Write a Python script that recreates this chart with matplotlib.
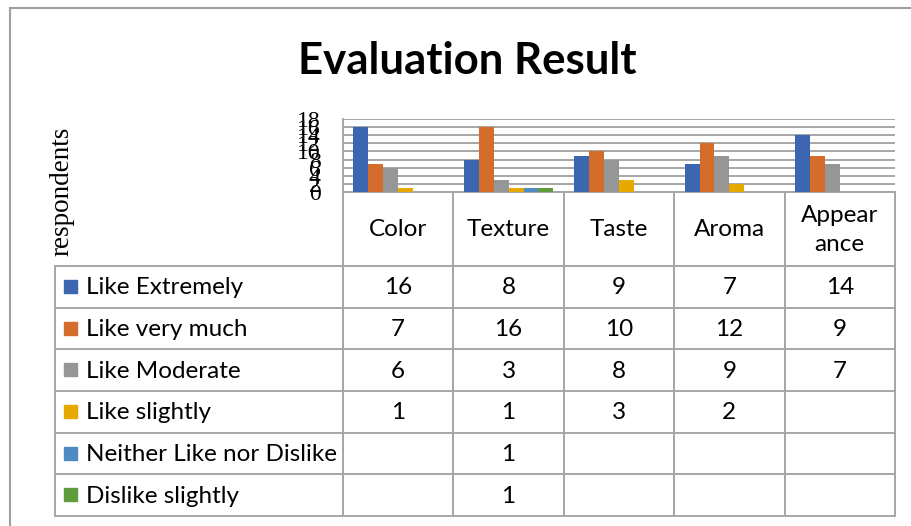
import numpy as np
import matplotlib
matplotlib.use("Agg")
import matplotlib.pyplot as plt

# data
categories = ["Color", "Texture", "Taste", "Aroma", "Appear\nance"]
series_names = ["Like Extremely", "Like very much", "Like Moderate",
                "Like slightly", "Neither Like nor Dislike", "Dislike slightly"]
like_extremely = [16, 8, 9, 7, 14]
like_very_much = [7, 16, 10, 12, 9]
like_moderate = [6, 3, 8, 9, 7]
like_slightly = [1, 1, 3, 2, None]
neither = [None, 1, None, None, None]
dislike_slightly = [None, 1, None, None, None]
series = [like_extremely, like_very_much, like_moderate,
          like_slightly, neither, dislike_slightly]
colors = ["#3D66B0", "#D46C2C", "#969696", "#E5A900", "#4F8BC2", "#5F9B3D"]
y_ticks = list(range(0, 19, 2))

W, H = 912, 526
fig = plt.figure(figsize=(W / 100, H / 100), dpi=100)
ui = ["Lato", "DejaVu Sans"]
serif = ["Liberation Serif", "DejaVu Serif"]
grid_c = "#A6A6A6"
fs = 17.5

# layout (pixels)
left, right = 343, 895
top_plot, bot_plot = 119, 192
head_bot = 266
tab_bot = 516
tab_left = 55
n_cat = len(categories)
n_ser = len(series)
col_w = (right - left) / n_cat
row_h = (tab_bot - head_bot) / n_ser

# background axes for table & frame
bg = fig.add_axes([0, 0, 1, 1], zorder=0)
bg.set_xlim(0, W)
bg.set_ylim(H, 0)
bg.axis("off")

# outer chart border
bg.plot([10, 10], [8, H], color="#A0A0A0", lw=1.5)
bg.plot([10, W], [8, 8], color="#A0A0A0", lw=1.5)

# title
bg.text(467, 61, "Evaluation Result", ha="center", va="center",
        fontsize=31.5, fontweight="bold", family=ui)
# y label
bg.text(62, 191, "respondents", rotation=90, ha="center", va="center",
        fontsize=19.5, family=serif)

# table lines
lw = 1.4
for k in range(n_cat + 1):
    x = left + k * col_w
    bg.plot([x, x], [bot_plot, tab_bot], color=grid_c, lw=lw)
bg.plot([tab_left, tab_left], [head_bot, tab_bot], color=grid_c, lw=lw)
for r in range(n_ser + 1):
    y = head_bot + r * row_h
    bg.plot([tab_left, right], [y, y], color=grid_c, lw=lw)

# header categories
for k, c in enumerate(categories):
    bg.text(left + (k + 0.5) * col_w, (bot_plot + head_bot) / 2 + 1, c,
            ha="center", va="center", fontsize=fs, family=ui, linespacing=1.45)

# rows: legend key + values
for r, (name, vals, col) in enumerate(zip(series_names, series, colors)):
    yc = head_bot + (r + 0.5) * row_h
    bg.add_patch(plt.Rectangle((64, yc - 7), 13, 13, color=col))
    bg.text(86, yc + 1, name, ha="left", va="center", fontsize=fs, family=ui)
    for k, v in enumerate(vals):
        if v is not None:
            bg.text(left + (k + 0.5) * col_w, yc + 1, str(v), ha="center",
                    va="center", fontsize=fs, family=ui)

# bar chart
ax = fig.add_axes([left / W, 1 - bot_plot / H, (right - left) / W,
                   (bot_plot - top_plot) / H], zorder=1)
ax.set_facecolor("none")
bw = 0.135
x = np.arange(n_cat)
for j, (vals, col) in enumerate(zip(series, colors)):
    v = [0 if a is None else a for a in vals]
    ax.bar(x + (j - (n_ser - 1) / 2) * bw, v, width=bw, color=col, zorder=3)
ax.set_xlim(-0.5, n_cat - 0.5)
ax.set_ylim(0, 18)
ax.set_yticks(y_ticks)
ax.set_yticklabels([str(t) for t in y_ticks], family=serif, fontsize=17)
ax.tick_params(axis="y", length=0, pad=16)
ax.set_xticks([])
ax.yaxis.grid(True, color=grid_c, lw=1.4, zorder=0)
for s in ["top", "right"]:
    ax.spines[s].set_visible(False)
for s in ["left", "bottom"]:
    ax.spines[s].set_color(grid_c)
    ax.spines[s].set_linewidth(1.4)

fig.savefig("out.png", dpi=100)
